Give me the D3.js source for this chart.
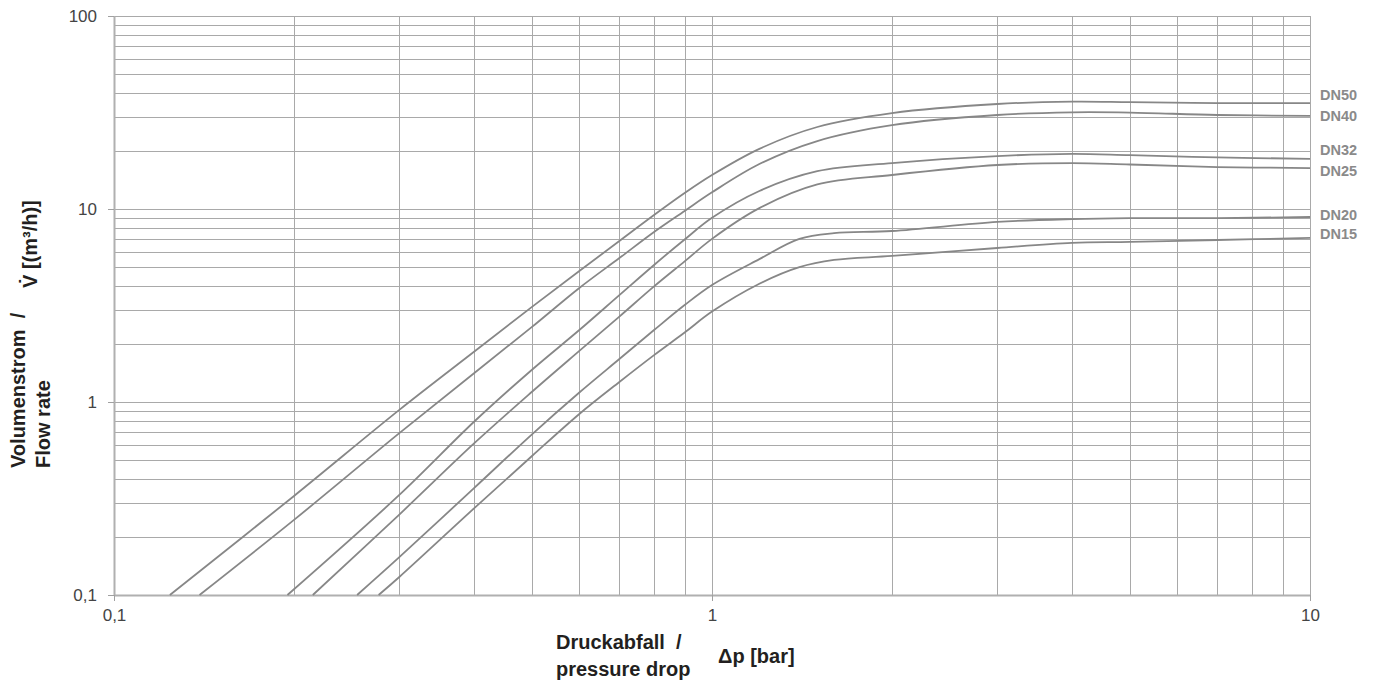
<!DOCTYPE html>
<html><head><meta charset="utf-8">
<script src="https://cdn.jsdelivr.net/npm/d3@7"></script>
<style>
html,body{margin:0;padding:0;background:#fff;}
svg{display:block;font-family:"Liberation Sans",Arial,sans-serif;}
</style></head>
<body>
<svg id="chart" width="1374" height="687"></svg>
<script>
// ---- data (Δp [bar], V̇ [m³/h]) ----
const seriesNames = ["DN50","DN40","DN32","DN25","DN20","DN15"];
const dn50 = [[0.124,0.1],[0.2,0.326],[0.3,0.91],[0.4,1.82],[0.5,3.11],[0.6,4.77],[0.7,6.83],[0.8,9.31],[0.9,12.1],[1,15.0],[1.2,20.5],[1.5,26.6],[2,31.4],[3,35.0],[4,36.0],[5,35.8],[7,35.4],[10,35.4]];
const dn40 = [[0.139,0.1],[0.2,0.245],[0.3,0.69],[0.4,1.41],[0.5,2.45],[0.6,3.90],[0.7,5.57],[0.8,7.6],[0.9,9.77],[1,12.2],[1.2,17.1],[1.5,22.5],[2,27.2],[3,30.7],[4,31.7],[5,31.6],[7,30.7],[10,30.4]];
const dn32 = [[0.195,0.1],[0.3,0.33],[0.4,0.79],[0.5,1.47],[0.6,2.36],[0.7,3.58],[0.8,5.13],[0.9,6.95],[1,9.0],[1.2,12.4],[1.5,15.7],[2,17.3],[3,18.8],[4,19.3],[5,19.0],[7,18.5],[10,18.2]];
const dn25 = [[0.215,0.1],[0.3,0.261],[0.4,0.61],[0.5,1.13],[0.6,1.84],[0.7,2.77],[0.8,3.97],[0.9,5.35],[1,7.0],[1.2,10.1],[1.5,13.4],[2,15.0],[3,16.9],[4,17.3],[5,17.0],[7,16.5],[10,16.3]];
const dn20 = [[0.255,0.1],[0.3,0.157],[0.4,0.358],[0.5,0.68],[0.6,1.12],[0.7,1.67],[0.8,2.36],[0.9,3.18],[1,4.04],[1.2,5.5],[1.4,7.0],[1.6,7.5],[2,7.69],[3,8.57],[4,8.87],[5,8.97],[7,8.97],[10,9.09]];
const dn15 = [[0.277,0.1],[0.3,0.124],[0.4,0.281],[0.5,0.525],[0.6,0.867],[0.7,1.27],[0.8,1.75],[0.9,2.29],[1,2.94],[1.2,4.1],[1.4,5.0],[1.6,5.45],[2,5.71],[3,6.28],[4,6.67],[5,6.75],[7,6.91],[10,7.08]];
const labelValues = [39.0, 30.3, 20.2, 15.7, 9.3, 7.4];
const xTickValues = [0.1, 1, 10];
const xTickLabels = ["0,1", "1", "10"];
const yTickValues = [0.1, 1, 10, 100];
const yTickLabels = ["0,1", "1", "10", "100"];

const allSeries = [dn50, dn40, dn32, dn25, dn20, dn15];

const svg = d3.select("#chart");
const L = 114, R = 1310, T = 16, B = 595;
const x = d3.scaleLog().domain([0.1, 10]).range([L, R]);
const y = d3.scaleLog().domain([0.1, 100]).range([B, T]);

// minor/major grid values
const gridX = [], gridY = [];
[0.1, 1].forEach(d => { for (let k = 1; k <= 10; k++) gridX.push(+(d * k).toPrecision(3)); });
[0.1, 1, 10].forEach(d => { for (let k = 1; k <= 10; k++) gridY.push(+(d * k).toPrecision(3)); });

const g = svg.append("g");
g.selectAll("line.gx").data(Array.from(new Set(gridX))).join("line")
  .attr("x1", d => Math.round(x(d)) + 0.5).attr("x2", d => Math.round(x(d)) + 0.5)
  .attr("y1", T).attr("y2", B)
  .attr("stroke", "#a9a9a9").attr("stroke-width", 1);
g.selectAll("line.gy").data(Array.from(new Set(gridY))).join("line")
  .attr("y1", d => Math.round(y(d)) + 0.5).attr("y2", d => Math.round(y(d)) + 0.5)
  .attr("x1", L).attr("x2", R)
  .attr("stroke", "#a9a9a9").attr("stroke-width", 1);

// axes
const xAxis = d3.axisBottom(x).tickValues(xTickValues).tickFormat((d, i) => xTickLabels[i]).tickSize(6).tickPadding(8);
const yAxis = d3.axisLeft(y).tickValues(yTickValues).tickFormat((d, i) => yTickLabels[i]).tickSize(6).tickPadding(11);
const gx = svg.append("g").attr("transform", `translate(0,${B})`).call(xAxis);
const gy = svg.append("g").attr("transform", `translate(${L},0)`).call(yAxis);
[gx, gy].forEach(a => {
  a.attr("font-size", 17).attr("font-family", "Liberation Sans, Arial, sans-serif");
  a.select(".domain").attr("stroke", "#b0b0b0").attr("stroke-width", 2);
  a.selectAll(".tick line").attr("stroke", "#a0a0a0");
  a.selectAll(".tick text").attr("fill", "#444");
});
gy.select(".domain").attr("d", `M0.5,${T}V${B}`);
gx.select(".domain").attr("d", `M${L},0.5H${R}`);

// curves
const line = d3.line().x(d => x(d[0])).y(d => y(d[1])).curve(d3.curveCatmullRom.alpha(0.5));
svg.append("g").selectAll("path").data(allSeries).join("path")
  .attr("d", line).attr("fill", "none").attr("stroke", "#878787").attr("stroke-width", 1.8);

// labels
svg.append("g").selectAll("text").data(seriesNames).join("text")
  .attr("x", R + 10).attr("y", (d, i) => y(labelValues[i]))
  .attr("dy", "0.35em").attr("font-size", 14.5).attr("font-weight", "bold")
  .attr("fill", "#8a8a8a").text(d => d);

// axis titles
const tFont = { size: 20, color: "#231f20" };
const xt = svg.append("g").attr("font-size", tFont.size).attr("font-weight", "bold").attr("fill", tFont.color);
xt.append("text").attr("x", 556).attr("y", 649).style("white-space", "pre").text("Druckabfall  /");
xt.append("text").attr("x", 556).attr("y", 676).text("pressure drop");
xt.append("text").attr("x", 718).attr("y", 663).text("Δp [bar]");

const yt = svg.append("g").attr("font-size", tFont.size).attr("font-weight", "bold").attr("fill", tFont.color);
yt.append("text").attr("transform", "translate(25,468) rotate(-90)").style("white-space", "pre").text("Volumenstrom  /");
yt.append("text").attr("transform", "translate(50,468) rotate(-90)").text("Flow rate");
yt.append("text").attr("transform", "translate(37,288) rotate(-90)").text("V\u0307 [(m³/h)]");
</script>
</body></html>
